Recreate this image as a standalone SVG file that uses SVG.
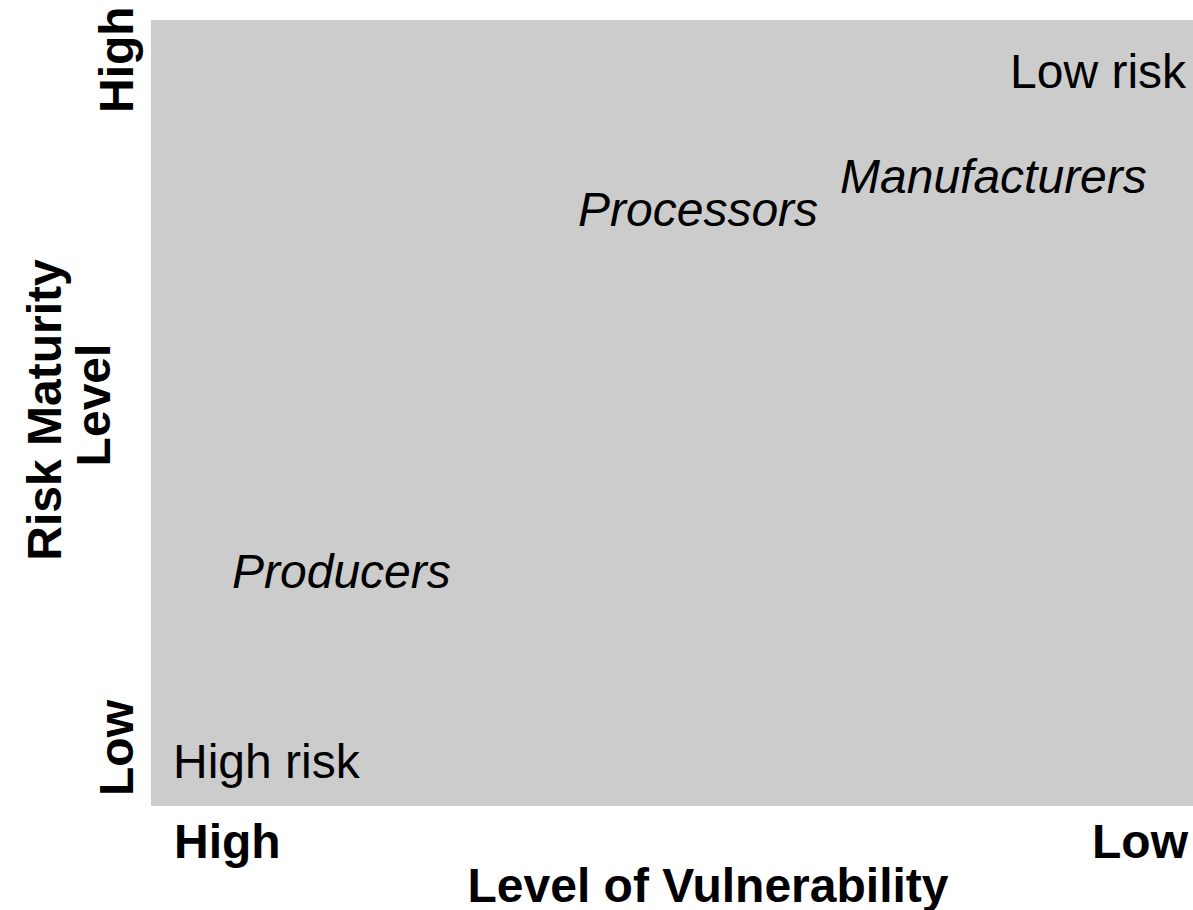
<svg xmlns="http://www.w3.org/2000/svg" width="1193" height="910" viewBox="0 0 1193 910">
<style>
text{font-family:"Liberation Sans",Arial,sans-serif;font-size:48px;fill:#000}
.b{font-weight:bold}
.i{font-style:italic}
</style>
<rect x="0" y="0" width="1193" height="910" fill="#fff"/>
<g id="quadrant">
<rect x="151" y="20" width="1042" height="786" fill="#cccccc"/>
</g>
<g id="corner-labels">
<text x="1010" y="88">Low risk</text>
<text x="173" y="778">High risk</text>
</g>
<g id="processors"><text class="i" x="578" y="226">Processors</text></g>
<g id="manufacturers"><text class="i" x="840" y="193">Manufacturers</text></g>
<g id="producers"><text class="i" x="232" y="588">Producers</text></g>
<g id="x-axis">
<text class="b" x="174" y="858">High</text>
<text class="b" x="1188" y="858" text-anchor="end">Low</text>
<text class="b" x="708" y="902" text-anchor="middle">Level of Vulnerability</text>
</g>
<g id="y-axis">
<text class="b" transform="translate(133,113) rotate(-90)">High</text>
<text class="b" transform="translate(133,796) rotate(-90)">Low</text>
<text class="b" text-anchor="middle" transform="translate(61,410) rotate(-90)">Risk Maturity</text>
<text class="b" text-anchor="middle" transform="translate(110,405) rotate(-90)">Level</text>
</g>
<g id="connectors"/>
</svg>
